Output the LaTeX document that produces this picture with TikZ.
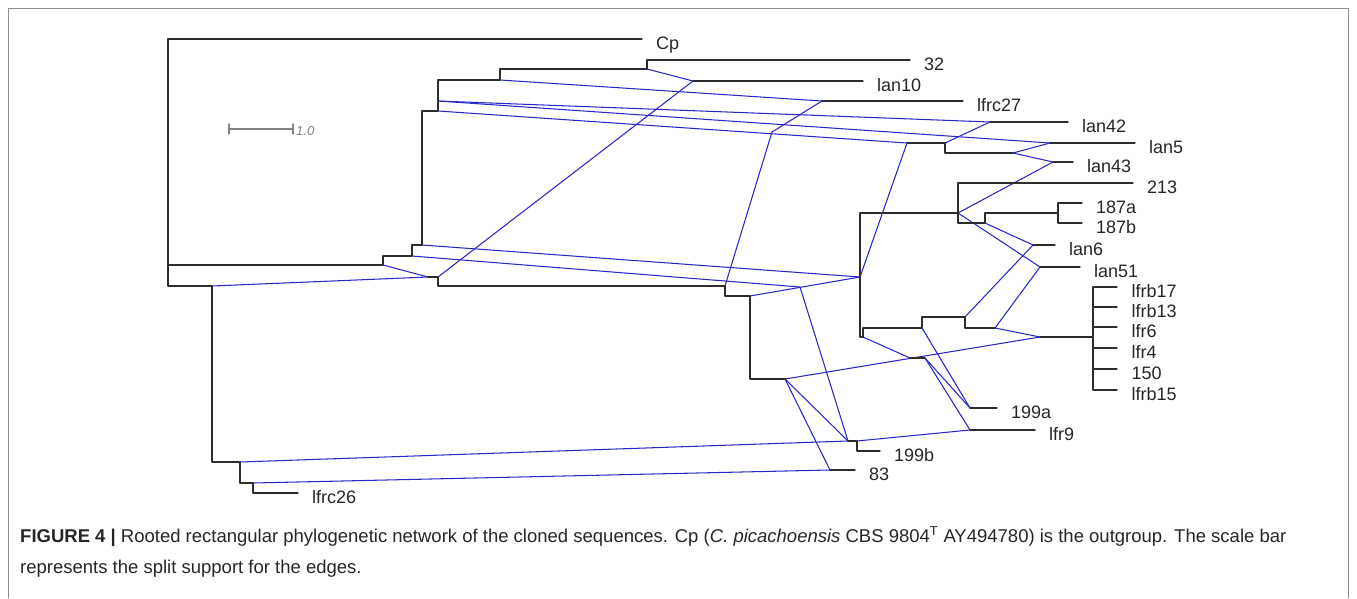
\documentclass[tikz,border=0pt]{standalone}
\usepackage{fontspec}
\setmainfont{Liberation Sans}
\definecolor{retblue}{RGB}{40,40,200}
\definecolor{treegray}{RGB}{45,45,45}
\tikzset{
  tree/.style={draw=treegray, line width=1.3pt},
  ret/.style={draw=retblue, line width=1.05pt},
  leaf/.style={anchor=base west, inner sep=0pt, xshift=14pt, yshift=-10pt, font=\fontsize{18}{20}\selectfont, text=black!85},
  scalebar/.style={draw=black!50, line width=1.2pt},
  captext/.style={anchor=base west, inner sep=0pt, font=\fontsize{18.5}{20}\selectfont, text=black!85},
}
\begin{document}
\begin{tikzpicture}[line cap=round,line join=round,x=1pt,y=-1pt]
\useasboundingbox (0,0) rectangle (1357,598);
\draw[black!45, line width=0.8pt] (8.5,598) -- (8.5,8.5) -- (1348.5,8.5) -- (1348.5,598);
\coordinate (r0) at (168,39);
\coordinate (ecp) at (642,39);
\coordinate (rb) at (168,286);
\coordinate (ra) at (168,265);
\coordinate (p1) at (383,265);
\coordinate (p2) at (412,256);
\coordinate (p3) at (422,245);
\coordinate (p4) at (438,111);
\coordinate (p5) at (438,101);
\coordinate (p6) at (500,80);
\coordinate (p7) at (647,69);
\coordinate (e32) at (910,60);
\coordinate (q1) at (212,286);
\coordinate (q3) at (240,462);
\coordinate (q4) at (253,483);
\coordinate (e26) at (298,493);
\coordinate (h10) at (693,81);
\coordinate (e10) at (863,81);
\coordinate (h27) at (822,101);
\coordinate (e27) at (963,101);
\coordinate (h42) at (990,122);
\coordinate (e42) at (1068,122);
\coordinate (h5) at (1050,143);
\coordinate (e5) at (1135,143);
\coordinate (h43) at (1053,162);
\coordinate (e43) at (1073,162);
\coordinate (a0) at (907,143);
\coordinate (a1) at (945,143);
\coordinate (a2) at (1013,153);
\coordinate (k) at (772,132);
\coordinate (hp) at (428,277);
\coordinate (p8) at (438,277);
\coordinate (m1) at (725,286);
\coordinate (m2) at (750,296);
\coordinate (m3) at (785,379);
\coordinate (kk) at (800,287);
\coordinate (c0) at (860,213);
\coordinate (cr) at (860,277);
\coordinate (c5) at (860,337);
\coordinate (c1) at (958,213);
\coordinate (c2) at (985,223);
\coordinate (c3) at (1058,213);
\coordinate (e213) at (1133,183);
\coordinate (e187a) at (1082,203);
\coordinate (e187b) at (1082,223);
\coordinate (c6) at (863,337);
\coordinate (c7) at (922,328);
\coordinate (c8) at (965,317);
\coordinate (c9) at (995,328);
\coordinate (h6) at (1033,245);
\coordinate (e6) at (1055,245);
\coordinate (h51) at (1040,267);
\coordinate (e51) at (1080,267);
\coordinate (hf) at (1040,337);
\coordinate (f0) at (1093,337);
\coordinate (ft) at (1093,287);
\coordinate (fb) at (1093,390);
\coordinate (g) at (910,358);
\coordinate (g2) at (925,358);
\coordinate (h199a) at (970,408);
\coordinate (e199a) at (997,408);
\coordinate (h9) at (970,430);
\coordinate (e9) at (1035,430);
\coordinate (h199b) at (848,441);
\coordinate (b1) at (857,441);
\coordinate (e199b) at (880,451);
\coordinate (h83) at (830,470);
\coordinate (e83) at (855,470);
\coordinate (sb0) at (229,129);
\coordinate (sb1) at (293,129);
\draw[ret] (q1) -- (hp);
\draw[ret] (p1) -- (hp);
\draw[ret] (p8) -- (h10);
\draw[ret] (p7) -- (h10);
\draw[ret] (p6) -- (h27);
\draw[ret] (p5) -- (h42);
\draw[ret] (p5) -- (h5);
\draw[ret] (p4) -- (a0);
\draw[ret] (k) -- (h27);
\draw[ret] (k) -- (m1);
\draw[ret] (a0) -- (cr);
\draw[ret] (p3) -- (cr);
\draw[ret] (p2) -- (kk);
\draw[ret] (m2) -- (cr);
\draw[ret] (kk) -- (h199b);
\draw[ret] (m3) -- (h199b);
\draw[ret] (m3) -- (h83);
\draw[ret] (m3) -- (hf);
\draw[ret] (q3) -- (h199b);
\draw[ret] (q4) -- (h83);
\draw[ret] (b1) -- (h9);
\draw[ret] (a1) -- (h42);
\draw[ret] (a2) -- (h5);
\draw[ret] (a2) -- (h43);
\draw[ret] (c1) -- (h43);
\draw[ret] (c1) -- (h51);
\draw[ret] (c2) -- (h6);
\draw[ret] (c8) -- (h6);
\draw[ret] (c9) -- (h51);
\draw[ret] (c9) -- (hf);
\draw[ret] (c6) -- (g);
\draw[ret] (g2) -- (h199a);
\draw[ret] (g2) -- (h9);
\draw[ret] (c7) -- (h199a);
\draw[tree] (ecp) -- (r0) -- (rb) -- (q1);
\draw[tree] (ra) -- (p1) |- (p2) |- (p3) |- (p4) -- (p5) |- (p6) |- (p7) |- (e32);
\draw[tree] (q1) |- (q3) |- (q4) |- (e26);
\draw[tree] (h10) -- (e10);
\draw[tree] (h27) -- (e27);
\draw[tree] (h42) -- (e42);
\draw[tree] (h5) -- (e5);
\draw[tree] (h43) -- (e43);
\draw[tree] (a0) -- (a1) |- (a2);
\draw[tree] (hp) -- (p8) |- (m1) |- (m2) |- (m3);
\draw[tree] (c0) -- (c5) -- (c6) |- (c7) |- (c8) |- (c9);
\draw[tree] (c0) -- (c1) |- (e213);
\draw[tree] (c1) |- (c2) |- (c3) |- (e187a);
\draw[tree] (c3) |- (e187b);
\draw[tree] (h6) -- (e6);
\draw[tree] (h51) -- (e51);
\draw[tree] (hf) -- (f0);
\draw[tree] (ft) -- (fb);
\draw[tree] (g) -- (g2);
\draw[tree] (h199a) -- (e199a);
\draw[tree] (h9) -- (e9);
\draw[tree] (h199b) -- (b1) |- (e199b);
\draw[tree] (h83) -- (e83);
\foreach \y/\t [count=\i] in {287/lfrb17,307/lfrb13,327/lfr6,348/lfr4,369/150,390/lfrb15}
  \draw[tree] (1093,\y) -- (1117,\y) node[leaf] (lf\i) {\t};
\node[leaf] (lcp) at (ecp) {Cp};
\node[leaf] (l32) at (e32) {32};
\node[leaf] (l10) at (e10) {lan10};
\node[leaf] (l27) at (e27) {lfrc27};
\node[leaf] (l42) at (e42) {lan42};
\node[leaf] (l5) at (e5) {lan5};
\node[leaf] (l43) at (e43) {lan43};
\node[leaf] (l213) at (e213) {213};
\node[leaf] (l187a) at (e187a) {187a};
\node[leaf] (l187b) at (e187b) {187b};
\node[leaf] (l6) at (e6) {lan6};
\node[leaf] (l51) at (e51) {lan51};
\node[leaf] (l199a) at (e199a) {199a};
\node[leaf] (l9) at (e9) {lfr9};
\node[leaf] (l199b) at (e199b) {199b};
\node[leaf] (l83) at (e83) {83};
\node[leaf] (l26) at (e26) {lfrc26};
\draw[scalebar] (sb0) -- (sb1);
\draw[scalebar] ([yshift=5pt]sb0) -- ([yshift=-5pt]sb0);
\draw[scalebar] ([yshift=5pt]sb1) -- ([yshift=-5pt]sb1);
\node[anchor=west, inner sep=0pt, xshift=3pt, yshift=-2pt, text=black!50, font=\fontsize{13}{14}\selectfont\itshape] (sbl) at (sb1) {1.0};
\node[captext] (cap1) at (20,542) {\textbf{FIGURE 4 |} Rooted rectangular phylogenetic network of the cloned sequences. Cp (\textit{C. picachoensis} CBS 9804\textsuperscript{T} AY494780) is the outgroup. The scale bar};
\node[captext] (cap2) at (20,573) {represents the split support for the edges.};
\end{tikzpicture}
\end{document}
